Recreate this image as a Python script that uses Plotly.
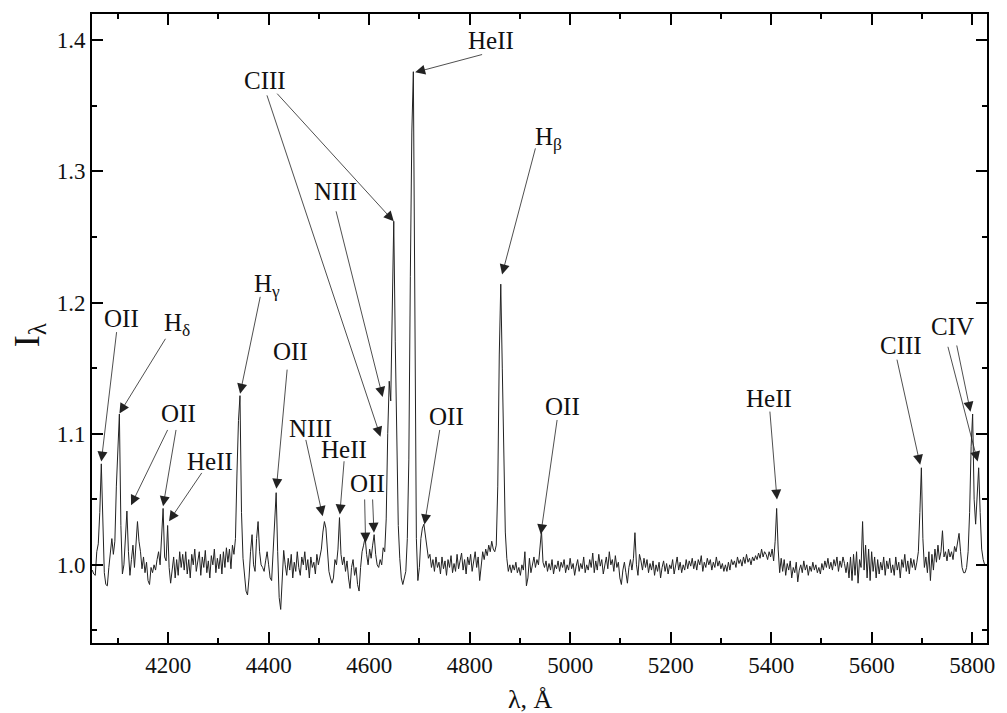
import plotly.graph_objects as go

# Spectrum sampling (uniform wavelength grid, Angstrom) and intensities
WAVE_START = 4049
WAVE_STEP = 3
INTENSITY = [
    # 4049 - 4076
    0.996, 0.993, 0.992, 1.010, 1.016, 1.040, 1.077, 1.030, 0.994, 0.985,
    # 4079 - 4106
    0.984, 0.998, 1.012, 1.020, 1.008, 1.018, 1.060, 1.095, 1.115, 1.030,
    # 4109 - 4136
    0.993, 1.000, 1.018, 1.041, 1.010, 0.992, 1.004, 1.015, 0.998, 1.020,
    # 4139 - 4166
    1.033, 1.018, 1.010, 0.997, 1.006, 0.994, 1.002, 0.988, 0.985, 0.998,
    # 4169 - 4196
    0.994, 1.000, 0.996, 1.004, 1.010, 1.000, 1.020, 1.043, 1.006, 1.003,
    # 4199 - 4226
    1.030, 0.998, 0.986, 0.995, 1.006, 0.990, 1.004, 0.992, 1.010, 0.998,
    # 4229 - 4256
    1.008, 0.996, 1.010, 0.993, 1.004, 0.990, 1.008, 1.000, 1.012, 0.995,
    # 4259 - 4286
    1.002, 1.010, 0.992, 1.006, 0.998, 1.011, 0.994, 1.003, 0.990, 1.007,
    # 4289 - 4316
    1.000, 1.012, 0.994, 1.005, 0.997, 1.008, 0.993, 1.010, 0.998, 1.013,
    # 4319 - 4346
    1.002, 1.012, 0.997, 1.015, 1.008, 1.020, 1.070, 1.110, 1.129, 1.040,
    # 4349 - 4376
    1.005, 0.990, 0.980, 0.977, 0.990, 1.010, 1.023, 1.000, 0.995, 1.020,
    # 4379 - 4406
    1.033, 1.010, 1.000, 0.998, 0.995, 1.003, 1.010, 1.000, 0.990, 0.988,
    # 4409 - 4436
    1.010, 1.035, 1.055, 1.010, 0.975, 0.966, 0.990, 1.011, 1.000, 0.992,
    # 4439 - 4466
    1.005, 0.996, 1.008, 0.990, 1.002, 0.995, 1.010, 0.998, 0.992, 1.006,
    # 4469 - 4496
    1.000, 1.010, 0.996, 1.004, 0.990, 1.006, 0.998, 1.002, 0.993, 1.008,
    # 4499 - 4526
    1.000, 1.005, 1.012, 1.025, 1.033, 1.028, 1.010, 0.995, 0.990, 0.986,
    # 4529 - 4556
    0.990, 1.004, 1.000, 1.012, 1.036, 1.008, 1.000, 1.006, 0.995, 1.003,
    # 4559 - 4586
    0.990, 0.982, 0.998, 1.004, 0.992, 0.998, 0.985, 0.980, 0.998, 1.010,
    # 4589 - 4616
    1.015, 1.021, 1.008, 1.000, 1.012, 1.005, 1.015, 1.023, 1.008, 1.000,
    # 4619 - 4646
    0.998, 1.004, 1.000, 1.013, 1.010, 1.035, 1.100, 1.140, 1.125, 1.180,
    # 4649 - 4676
    1.262, 1.170, 1.080, 1.030, 1.005, 0.990, 0.985, 0.990, 0.995, 1.020,
    # 4679 - 4706
    1.080, 1.220, 1.330, 1.376, 1.160, 1.020, 0.988, 0.998, 1.020, 1.028,
    # 4709 - 4736
    1.031, 1.022, 1.012, 1.005, 1.008, 0.998, 1.004, 0.995, 1.006, 0.998,
    # 4739 - 4766
    1.002, 0.993, 1.006, 0.997, 1.003, 0.992, 1.004, 0.998, 1.007, 0.994,
    # 4769 - 4796
    1.001, 0.995, 1.008, 0.997, 1.003, 1.009, 0.996, 1.004, 0.993, 1.006,
    # 4799 - 4826
    1.000, 1.008, 0.995, 1.004, 1.010, 0.998, 1.006, 0.988, 1.002, 1.010,
    # 4829 - 4856
    1.004, 1.012, 1.007, 1.015, 1.010, 1.018, 1.012, 1.010, 1.015, 1.060,
    # 4859 - 4886
    1.160, 1.214, 1.150, 1.070, 1.025, 1.005, 0.995, 1.000, 0.994, 1.000,
    # 4889 - 4916
    0.996, 1.002, 0.994, 0.998, 0.992, 1.000, 0.996, 1.010, 0.984, 0.990,
    # 4919 - 4946
    1.005, 0.994, 1.000, 1.006, 0.998, 1.004, 1.000, 1.012, 1.026, 1.002,
    # 4949 - 4976
    0.998, 1.003, 0.995, 1.001, 0.996, 1.004, 0.993, 1.000, 0.997, 1.003,
    # 4979 - 5006
    0.995, 1.002, 0.998, 1.004, 0.994, 1.000, 0.996, 1.005, 0.997, 1.001,
    # 5009 - 5036
    0.992, 0.999, 1.004, 0.995, 1.001, 0.997, 1.006, 0.994, 1.000, 0.996,
    # 5039 - 5066
    1.004, 0.998, 1.009, 0.994, 1.003, 0.996, 1.008, 0.999, 1.004, 0.993,
    # 5069 - 5096
    1.001, 1.006, 0.997, 1.010, 1.000, 1.004, 0.995, 1.007, 0.998, 1.002,
    # 5099 - 5126
    0.990, 0.985, 0.996, 1.002, 0.994, 0.986, 0.998, 1.004, 0.996, 1.005,
    # 5129 - 5156
    1.0245, 1.000, 0.992, 1.008, 1.003, 0.996, 1.005, 0.998, 1.004, 0.994,
    # 5159 - 5186
    1.001, 0.996, 1.003, 0.992, 1.000, 0.995, 1.002, 0.990, 0.998, 1.003,
    # 5189 - 5216
    0.995, 1.001, 0.993, 1.000, 0.997, 1.004, 0.993, 0.999, 1.006, 0.996,
    # 5219 - 5246
    1.002, 0.994, 1.000, 0.996, 1.004, 0.997, 1.003, 0.999, 1.005, 0.997,
    # 5249 - 5276
    1.003, 0.996, 1.004, 1.000, 1.007, 0.995, 1.002, 0.998, 1.005, 1.000,
    # 5279 - 5306
    1.004, 0.996, 1.002, 0.998, 1.006, 0.999, 1.003, 0.997, 1.001, 0.995,
    # 5309 - 5336
    1.000, 0.995, 1.002, 0.996, 1.004, 1.000, 1.003, 0.998, 1.006, 1.001,
    # 5339 - 5366
    1.004, 0.999, 1.006, 1.001, 1.008, 1.002, 1.005, 1.000, 1.006, 1.003,
    # 5369 - 5396
    1.007, 1.004, 1.009, 1.005, 1.012, 1.006, 1.010, 1.008, 1.004, 1.010,
    # 5399 - 5426
    1.006, 1.012, 1.003, 1.018, 1.043, 1.012, 0.994, 1.005, 0.995, 1.004,
    # 5429 - 5456
    0.992, 1.001, 0.996, 1.003, 0.990, 0.998, 0.994, 1.002, 0.987, 0.996,
    # 5459 - 5486
    1.000, 0.994, 1.003, 0.996, 1.000, 0.992, 0.999, 0.995, 1.002, 0.996,
    # 5489 - 5516
    1.000, 0.994, 0.998, 0.993, 1.001, 0.996, 1.003, 0.998, 1.005, 0.997,
    # 5519 - 5546
    1.002, 0.996, 1.004, 0.999, 1.006, 0.995, 1.003, 0.998, 1.006, 1.001,
    # 5549 - 5576
    0.994, 1.002, 0.990, 1.006, 0.988, 1.008, 0.992, 1.010, 0.986, 1.004,
    # 5579 - 5606
    0.998, 1.033, 0.996, 1.015, 0.990, 1.012, 0.988, 1.010, 0.995, 1.006,
    # 5609 - 5636
    0.990, 1.004, 0.993, 1.002, 0.996, 1.006, 0.992, 1.003, 0.997, 1.005,
    # 5639 - 5666
    0.994, 1.000, 0.992, 1.006, 0.996, 1.002, 0.990, 1.004, 0.998, 1.008,
    # 5669 - 5696
    0.995, 1.003, 0.993, 1.005, 0.998, 1.004, 0.996, 1.002, 1.010, 1.040,
    # 5699 - 5726
    1.074, 1.020, 0.998, 1.006, 0.994, 1.010, 0.988, 1.008, 0.996, 1.012,
    # 5729 - 5756
    1.002, 1.015, 1.004, 1.010, 1.026, 1.006, 1.010, 1.003, 1.012, 1.006,
    # 5759 - 5786
    1.010, 1.004, 1.014, 1.010, 1.018, 1.024, 1.010, 0.998, 0.994, 0.994,
    # 5789 - 5816
    0.998, 1.010, 1.040, 1.090, 1.115, 1.050, 1.031, 1.055, 1.074, 1.040,
    # 5819 - 5828
    1.012, 1.004, 1.000, 1.000,
]
WAVELENGTH = [WAVE_START + WAVE_STEP * i for i in range(len(INTENSITY))]

# Line identifications: label, label position (wavelength, intensity)
LABELS = ["OII", "H<sub>δ</sub>", "OII", "HeII", "H<sub>γ</sub>", "OII", "NIII", "HeII",
          "OII", "CIII", "NIII", "HeII", "H<sub>β</sub>", "OII", "OII", "HeII", "CIII", "CIV"]
LABEL_WAVE = [4107.1, 4217.6, 4221.5, 4284.1, 4397.2, 4443.8, 4482.5, 4550.4,
              4596.3, 4392.6, 4533.5, 4843.0, 4957.4, 4984.4, 4754.2, 5395.3, 5658.3, 5760.9]
LABEL_INT = [1.1879, 1.1833, 1.1154, 1.0788, 1.2129, 1.1627, 1.1040, 1.0877,
             1.0623, 1.3692, 1.2846, 1.3995, 1.3250, 1.1205, 1.1129, 1.1267, 1.1672, 1.1818]

# Arrows: tail (wavelength, intensity) -> head (wavelength, intensity)
ARROW_TAIL_WAVE = [4097.8, 4196.5, 4200.4, 4216.2, 4268.9, 4383.9, 4437.1, 4473.4, 4550.4,
                   4591.0, 4606.8, 4414.3, 4395.7, 4533.5, 4827.8, 4931.7, 4974.5, 4741.0,
                   5397.3, 5649.8, 5768.8, 5751.1]
ARROW_TAIL_INT = [1.1786, 1.1735, 1.1040, 1.1040, 1.0712, 1.2055, 1.1500, 1.0964, 1.0801,
                  1.0510, 1.0510, 1.3604, 1.3591, 1.2707, 1.3894, 1.3187, 1.1116, 1.1040,
                  1.1180, 1.1576, 1.1684, 1.1674]
ARROW_HEAD_WAVE = [4067.0, 4103.1, 4126.2, 4190.0, 4201.8, 4343.2, 4415.4, 4507.6, 4541.7,
                   4593.0, 4609.6, 4649.0, 4622.6, 4626.9, 4691.6, 4864.6, 4941.6, 4710.2,
                   5411.7, 5696.6, 5796.7, 5811.0]
ARROW_HEAD_INT = [1.0788, 1.1154, 1.0455, 1.0447, 1.0333, 1.1305, 1.0581, 1.0371, 1.0384,
                  1.0169, 1.0245, 1.2619, 1.0977, 1.1280, 1.3755, 1.2214, 1.0233, 1.0308,
                  1.0498, 1.0763, 1.1167, 1.0788]

X_RANGE = [4048.5, 5829.6]
Y_RANGE = [0.9404, 1.42]
X_TICKS = [4200, 4400, 4600, 4800, 5000, 5200, 5400, 5600, 5800]
Y_TICKS = [1.0, 1.1, 1.2, 1.3, 1.4]
Y_TICK_TEXT = ["1.0", "1.1", "1.2", "1.3", "1.4"]

FONT = "Liberation Serif, Times New Roman, serif"

fig = go.Figure()
fig.add_trace(go.Scatter(
    x=WAVELENGTH, y=INTENSITY, mode="lines",
    line=dict(color="#222222", width=1),
    showlegend=False, hoverinfo="skip",
))

for lab, lx, ly in zip(LABELS, LABEL_WAVE, LABEL_INT):
    fig.add_annotation(x=lx, y=ly, xref="x", yref="y", text=lab, showarrow=False,
                       xanchor="center", yanchor="middle",
                       font=dict(family=FONT, size=25, color="#111111"))

for tx, ty, hx, hy in zip(ARROW_TAIL_WAVE, ARROW_TAIL_INT, ARROW_HEAD_WAVE, ARROW_HEAD_INT):
    fig.add_annotation(x=hx, y=hy, xref="x", yref="y", ax=tx, ay=ty, axref="x", ayref="y",
                       text="", showarrow=True, arrowhead=2, arrowsize=2.5,
                       arrowwidth=0.8, arrowcolor="#222222", standoff=0, startstandoff=0)

# Axis titles
fig.add_annotation(x=-0.0700, y=0.49, xref="paper", yref="paper", text="I<sub>λ</sub>",
                   showarrow=False, textangle=-90, xanchor="center", yanchor="middle",
                   font=dict(family=FONT, size=36, color="#111111"))
fig.add_annotation(x=0.4895, y=-0.0905, xref="paper", yref="paper", text="λ, Å",
                   showarrow=False, xanchor="center", yanchor="middle",
                   font=dict(family=FONT, size=26, color="#111111"))

axis_common = dict(
    showline=True, linecolor="black", linewidth=2, mirror="allticks",
    ticks="inside", ticklen=11, tickwidth=2, tickcolor="black",
    showgrid=False, zeroline=False,
    tickfont=dict(family=FONT, size=23, color="#111111"),
)
fig.update_xaxes(range=X_RANGE, tickmode="array", tickvals=X_TICKS,
                 minor=dict(ticks="inside", ticklen=5, tickwidth=2, tickcolor="black",
                            dtick=100, tick0=4000, showgrid=False),
                 **axis_common)
fig.update_yaxes(range=Y_RANGE, tickmode="array", tickvals=Y_TICKS,
                 ticktext=Y_TICK_TEXT,
                 minor=dict(ticks="inside", ticklen=5, tickwidth=2, tickcolor="black",
                            dtick=0.05, tick0=0.95, showgrid=False),
                 **axis_common)

fig.update_layout(
    width=1007, height=713,
    margin=dict(l=92, r=12, t=13, b=70),
    plot_bgcolor="white", paper_bgcolor="white",
    font=dict(family=FONT),
)

fig.write_html("out.html")
